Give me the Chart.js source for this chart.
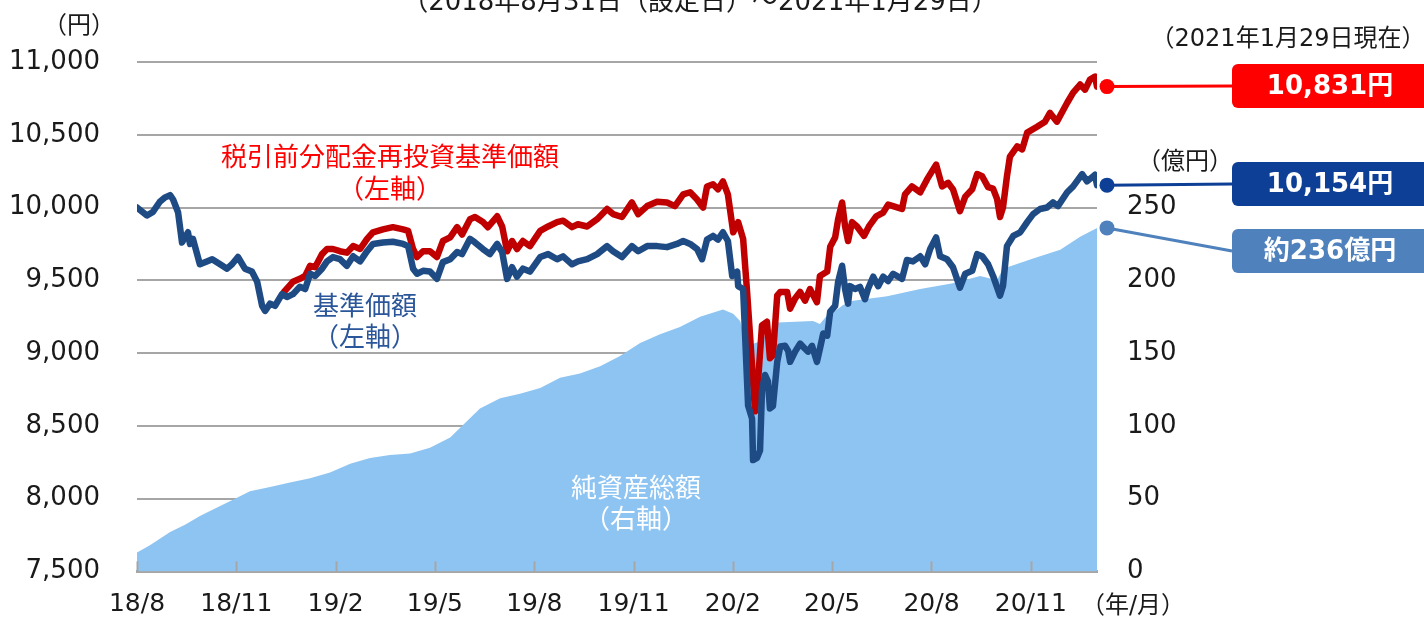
<!DOCTYPE html>
<html lang="ja">
<head>
<meta charset="utf-8">
<title>基準価額・純資産総額の推移</title>
<script src="https://cdn.jsdelivr.net/npm/chart.js@4.4.1/dist/chart.umd.min.js"></script>
<style>
    html, body { margin: 0; padding: 0; background: #FFFFFF; }
    #wrap { width: 1424px; height: 624px; }
</style>
</head>
<body>
<div id="wrap"><canvas id="navChart" width="1424" height="624"></canvas></div>
<script>
/* ==========================================================
   Data (x = months after 2018/8/31 launch)
========================================================== */

const monthTicks = [0, 3, 6, 9, 12, 15, 18, 21, 24, 27];
const monthLabels = ["18/8", "18/11", "19/2", "19/5", "19/8", "19/11", "20/2", "20/5", "20/8", "20/11"];

const yenMin = 7500, yenMax = 11000, yenStep = 500;
const okuMin = 0, okuMax = 350, okuStep = 50, okuLabelMax = 250;

// 基準価額 (left axis, 円)
const basePrice = [
    [0.00, 10000], [0.30, 9945], [0.48, 9970], [0.69, 10040], [0.85, 10070], [1.00, 10085], [1.09, 10055],
    [1.24, 9968], [1.36, 9760], [1.45, 9795], [1.54, 9830], [1.60, 9750], [1.69, 9785], [1.90, 9610],
    [2.11, 9630], [2.27, 9645], [2.51, 9610], [2.72, 9580], [2.87, 9610], [3.05, 9660], [3.26, 9580],
    [3.47, 9560], [3.63, 9490], [3.78, 9325], [3.87, 9290], [4.02, 9340], [4.17, 9325], [4.38, 9405],
    [4.53, 9385], [4.71, 9405], [4.92, 9455], [5.08, 9440], [5.23, 9545], [5.38, 9530], [5.59, 9580],
    [5.74, 9630], [5.92, 9660], [6.13, 9645], [6.34, 9600], [6.53, 9665], [6.74, 9630], [6.95, 9700],
    [7.13, 9750], [7.43, 9760], [7.73, 9765], [8.04, 9750], [8.19, 9735], [8.34, 9580], [8.46, 9545],
    [8.64, 9565], [8.85, 9560], [9.06, 9510], [9.24, 9625], [9.46, 9645], [9.67, 9695], [9.82, 9680],
    [10.06, 9785], [10.21, 9760], [10.45, 9715], [10.66, 9680], [10.88, 9750], [11.03, 9695], [11.18, 9510],
    [11.33, 9590], [11.48, 9525], [11.66, 9580], [11.87, 9560], [12.18, 9660], [12.42, 9680], [12.69, 9645],
    [12.87, 9665], [13.14, 9610], [13.32, 9630], [13.60, 9645], [13.90, 9680], [14.20, 9735], [14.38, 9700],
    [14.65, 9660], [14.95, 9735], [15.14, 9700], [15.41, 9735], [15.71, 9735], [16.01, 9728], [16.31, 9750],
    [16.50, 9770], [16.71, 9750], [16.92, 9715], [17.07, 9645], [17.22, 9780], [17.40, 9805], [17.55, 9780],
    [17.70, 9830], [17.85, 9770], [17.98, 9530], [18.13, 9560], [18.16, 9460], [18.31, 9440], [18.37, 9120],
    [18.46, 8640], [18.58, 8550], [18.61, 8265], [18.73, 8280], [18.82, 8330], [18.88, 8740], [18.97, 8850],
    [19.06, 8805], [19.12, 8620], [19.21, 8635], [19.34, 8940], [19.43, 9045], [19.58, 9050], [19.67, 9015],
    [19.73, 8940], [19.88, 9010], [20.03, 9065], [20.18, 9030], [20.27, 9010], [20.39, 9050], [20.54, 8940],
    [20.63, 9030], [20.73, 9135], [20.85, 9120], [20.94, 9285], [21.09, 9325], [21.18, 9490], [21.30, 9600],
    [21.39, 9440], [21.48, 9340], [21.54, 9460], [21.69, 9440], [21.84, 9455], [21.99, 9370], [22.08, 9440],
    [22.24, 9525], [22.39, 9460], [22.54, 9525], [22.69, 9495], [22.84, 9545], [23.11, 9510], [23.26, 9640],
    [23.44, 9630], [23.66, 9665], [23.81, 9610], [23.96, 9715], [24.14, 9795], [24.26, 9665], [24.47, 9645],
    [24.65, 9590], [24.86, 9450], [25.02, 9545], [25.23, 9565], [25.38, 9680], [25.53, 9665], [25.71, 9610],
    [25.86, 9530], [26.07, 9395], [26.16, 9460], [26.28, 9735], [26.47, 9805], [26.68, 9830], [26.89, 9900],
    [27.07, 9955], [27.28, 9990], [27.49, 10000], [27.67, 10035], [27.82, 10010], [28.10, 10105], [28.28, 10145],
    [28.55, 10230], [28.70, 10180], [28.88, 10214], [28.94, 10225], [29.00, 10154]
];

// 税引前分配金再投資基準価額 (left axis, 円) – same as 基準価額 until the first payout
const reinvestPrice = [
    [4.44, 9420], [4.71, 9490], [4.92, 9510], [5.08, 9530], [5.23, 9600], [5.38, 9590], [5.59, 9680],
    [5.74, 9715], [5.92, 9715], [6.13, 9700], [6.34, 9690], [6.53, 9735], [6.74, 9715], [6.95, 9785],
    [7.13, 9830], [7.43, 9850], [7.73, 9865], [8.04, 9850], [8.19, 9840], [8.34, 9715], [8.46, 9660],
    [8.64, 9700], [8.85, 9700], [9.06, 9660], [9.24, 9770], [9.46, 9795], [9.67, 9865], [9.82, 9815],
    [10.06, 9920], [10.21, 9935], [10.45, 9900], [10.60, 9865], [10.88, 9940], [11.03, 9870], [11.18, 9700],
    [11.33, 9770], [11.48, 9715], [11.66, 9770], [11.87, 9735], [12.18, 9840], [12.42, 9870], [12.69, 9900],
    [12.87, 9910], [13.14, 9865], [13.32, 9885], [13.60, 9870], [13.90, 9920], [14.20, 9990], [14.38, 9955],
    [14.65, 9935], [14.95, 10035], [15.14, 9955], [15.41, 10010], [15.71, 10040], [16.01, 10035], [16.25, 10010],
    [16.50, 10090], [16.71, 10105], [16.92, 10055], [17.10, 10000], [17.22, 10145], [17.40, 10160], [17.55, 10125],
    [17.70, 10180], [17.85, 10090], [18.01, 9830], [18.16, 9900], [18.31, 9785], [18.43, 9420], [18.52, 9120],
    [18.61, 8805], [18.67, 8600], [18.76, 8805], [18.88, 9190], [19.03, 9215], [19.12, 8965], [19.21, 8985],
    [19.34, 9395], [19.43, 9420], [19.64, 9420], [19.73, 9305], [19.88, 9375], [20.03, 9420], [20.18, 9360],
    [20.33, 9440], [20.54, 9350], [20.63, 9530], [20.85, 9560], [20.94, 9730], [21.09, 9795], [21.18, 9920],
    [21.30, 10035], [21.39, 9870], [21.48, 9770], [21.60, 9900], [21.75, 9870], [21.96, 9805], [22.11, 9870],
    [22.33, 9940], [22.54, 9965], [22.69, 10020], [22.84, 10010], [23.11, 9990], [23.20, 10090], [23.41, 10145],
    [23.66, 10105], [23.87, 10195], [24.14, 10295], [24.32, 10145], [24.50, 10170], [24.65, 10125], [24.86, 9975],
    [25.02, 10075], [25.23, 10125], [25.38, 10230], [25.53, 10215], [25.71, 10140], [25.86, 10130], [25.98, 10060],
    [26.07, 9935], [26.16, 10000], [26.28, 10215], [26.37, 10350], [26.59, 10420], [26.74, 10400], [26.89, 10515],
    [27.19, 10555], [27.43, 10590], [27.58, 10650], [27.79, 10590], [28.10, 10720], [28.28, 10790], [28.49, 10845],
    [28.64, 10810], [28.79, 10880], [28.94, 10900], [29.00, 10831]
];

// 純資産総額 (right axis, 億円)
const netAssets = [
    [0.00, 13], [0.39, 18], [1.00, 27], [1.45, 32], [1.90, 38], [2.51, 45], [2.96, 50], [3.41, 55],
    [4.02, 58], [4.62, 61], [5.23, 64], [5.83, 68], [6.44, 74], [7.04, 78], [7.64, 80], [8.25, 81],
    [8.85, 85], [9.46, 92], [9.91, 102], [10.36, 112], [10.97, 119], [11.57, 122], [12.18, 126], [12.78, 133],
    [13.38, 136], [13.99, 141], [14.59, 148], [15.20, 157], [15.80, 163], [16.40, 168], [17.01, 175], [17.70, 180],
    [18.01, 177], [18.22, 172], [18.43, 155], [18.82, 158], [19.34, 171], [20.42, 172], [20.63, 170], [20.85, 176],
    [21.15, 180], [21.33, 183], [21.63, 186], [22.66, 189], [23.66, 194], [24.65, 198], [25.47, 203], [25.98, 200],
    [26.16, 208], [27.07, 215], [27.89, 221], [28.49, 230], [29.00, 236]
];

/* ==========================================================
   Styles
========================================================== */

const COLORS = {
    reinvest: "#C00000",
    base: "#1F4B85",
    assets: "#8EC4F2",
    grid: "#A6A6A6",
    text: "#1A1A1A",
    redBox: "#FF0000",
    blueBox: "#0D3F97",
    skyBox: "#4F81BD",
    baseLabel: "#2B569A"
};

const FONT_NUM = "'DejaVu Sans', 'Noto Sans CJK JP', sans-serif";
const FONT_JP = "'Noto Sans CJK JP', sans-serif";

const toPoints = (rows) => rows.map(([x, y]) => ({ x, y }));
const lastOf = (rows) => rows[rows.length - 1][1];

/* ==========================================================
   Notes plugin: inner ticks, captions, end-value boxes
========================================================== */

function text(ctx, str, x, y, font, color, align) {
    ctx.font = font;
    ctx.fillStyle = color;
    ctx.textAlign = align || "center";
    ctx.textBaseline = "middle";
    ctx.fillText(str, x, y);
}

function endBox(ctx, dotX, dotY, boxY, color, label) {
    const boxX = 1232, boxW = 200, boxH = 44;
    ctx.strokeStyle = color;
    ctx.lineWidth = 3;
    ctx.beginPath();
    ctx.moveTo(dotX, dotY);
    ctx.lineTo(boxX, boxY + boxH / 2);
    ctx.stroke();

    ctx.fillStyle = color;
    ctx.beginPath();
    ctx.arc(dotX, dotY, 7.5, 0, Math.PI * 2);
    ctx.fill();

    ctx.beginPath();
    ctx.roundRect(boxX, boxY, boxW, boxH, 6);
    ctx.fill();

    text(ctx, label, 1330, boxY + boxH / 2 + 1, "bold 26px " + FONT_NUM, "#FFFFFF");
}

const chartNotes = {
    id: "chartNotes",
    afterDatasetsDraw(chart) {
        const { ctx, chartArea, scales } = chart;
        ctx.save();

        // short tick marks standing inside the plot
        ctx.strokeStyle = COLORS.grid;
        ctx.lineWidth = 2;
        monthTicks.forEach((m) => {
            const px = Math.round(scales.x.getPixelForValue(m)) + 0.5;
            ctx.beginPath();
            ctx.moveTo(px, chartArea.bottom);
            ctx.lineTo(px, chartArea.bottom - 10);
            ctx.stroke();
        });

        // captions
        text(ctx, "（2018年8月31日（設定日）～2021年1月29日）", 700, 3, "26px " + FONT_NUM, COLORS.text);
        text(ctx, "（円）", 79, 24, "24px " + FONT_JP, COLORS.text);
        text(ctx, "（2021年1月29日現在）", 1288, 40, "24px " + FONT_NUM, COLORS.text);
        text(ctx, "（億円）", 1185, 160, "24px " + FONT_JP, COLORS.text);
        text(ctx, "（年/月）", 1133, 607, "24px " + FONT_NUM, COLORS.text);

        text(ctx, "税引前分配金再投資基準価額", 390, 156, "26px " + FONT_JP, "#FF0000");
        text(ctx, "（左軸）", 390, 188, "26px " + FONT_JP, "#FF0000");
        text(ctx, "基準価額", 365, 305, "26px " + FONT_JP, COLORS.baseLabel);
        text(ctx, "（左軸）", 365, 336, "26px " + FONT_JP, COLORS.baseLabel);
        text(ctx, "純資産総額", 636, 487, "26px " + FONT_JP, "#FFFFFF");
        text(ctx, "（右軸）", 636, 518, "26px " + FONT_JP, "#FFFFFF");

        // latest values
        const dotX = chartArea.right + 10;
        const reinvestEnd = lastOf(reinvestPrice);
        const baseEnd = lastOf(basePrice);
        const assetsEnd = lastOf(netAssets);

        endBox(ctx, dotX, scales.yYen.getPixelForValue(reinvestEnd), 64, COLORS.redBox,
            reinvestEnd.toLocaleString("en-US") + "円");
        endBox(ctx, dotX, scales.yYen.getPixelForValue(baseEnd), 162, COLORS.blueBox,
            baseEnd.toLocaleString("en-US") + "円");
        endBox(ctx, dotX, scales.yOku.getPixelForValue(assetsEnd), 229, COLORS.skyBox,
            "約" + assetsEnd + "億円");

        ctx.restore();
    }
};

/* ==========================================================
   Chart
========================================================== */

Chart.defaults.font.family = FONT_NUM;
Chart.defaults.color = COLORS.text;

new Chart(document.getElementById("navChart").getContext("2d"), {
    type: "line",
    data: {
        datasets: [
            {
                label: "基準価額",
                data: toPoints(basePrice),
                yAxisID: "yYen",
                borderColor: COLORS.base,
                borderWidth: 6.5,
                borderJoinStyle: "round",
                borderCapStyle: "round",
                pointRadius: 0,
                tension: 0,
                fill: false,
                order: 1
            },
            {
                label: "税引前分配金再投資基準価額",
                data: toPoints(reinvestPrice),
                yAxisID: "yYen",
                borderColor: COLORS.reinvest,
                borderWidth: 6.5,
                borderJoinStyle: "round",
                borderCapStyle: "round",
                pointRadius: 0,
                tension: 0,
                fill: false,
                order: 2
            },
            {
                label: "純資産総額",
                data: toPoints(netAssets),
                yAxisID: "yOku",
                borderWidth: 0,
                borderColor: COLORS.assets,
                backgroundColor: COLORS.assets,
                pointRadius: 0,
                tension: 0,
                fill: "start",
                order: 3
            }
        ]
    },
    options: {
        responsive: false,
        animation: false,
        devicePixelRatio: 1,
        layout: { padding: { top: 62, right: 0, bottom: 0, left: 0 } },
        plugins: {
            legend: { display: false },
            tooltip: { enabled: false }
        },
        scales: {
            x: {
                type: "linear",
                min: 0,
                max: 29,
                afterBuildTicks: (scale) => { scale.ticks = monthTicks.map((v) => ({ value: v })); },
                afterFit: (scale) => { scale.height = 50; },
                grid: { display: false, drawTicks: false },
                border: { display: true, color: COLORS.grid, width: 3 },
                ticks: {
                    autoSkip: false,
                    maxRotation: 0,
                    padding: 18,
                    font: { size: 25 },
                    color: COLORS.text,
                    callback: (v) => monthLabels[monthTicks.indexOf(v)]
                }
            },
            yYen: {
                position: "left",
                min: yenMin,
                max: yenMax,
                afterFit: (scale) => { scale.width = 137; },
                grid: { color: COLORS.grid, lineWidth: 2, drawTicks: false },
                border: { display: false },
                ticks: {
                    stepSize: yenStep,
                    padding: 37,
                    font: { size: 26 },
                    color: COLORS.text,
                    callback: (v) => v.toLocaleString("en-US")
                }
            },
            yOku: {
                position: "right",
                min: okuMin,
                max: okuMax,
                afterFit: (scale) => { scale.width = 327; },
                grid: { display: false, drawTicks: false },
                border: { display: false },
                ticks: {
                    stepSize: okuStep,
                    padding: 30,
                    font: { size: 26 },
                    color: COLORS.text,
                    callback: (v) => (v <= okuLabelMax ? v : "")
                }
            }
        }
    },
    plugins: [chartNotes]
});
</script>
</body>
</html>
